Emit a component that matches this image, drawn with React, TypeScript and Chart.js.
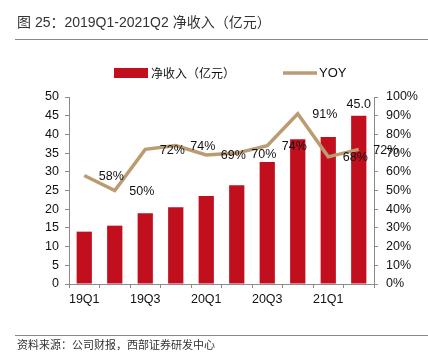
import React, { useEffect, useRef } from "react";
import { Chart, registerables } from "chart.js";

Chart.register(...registerables);

const categories = ["19Q1", "19Q2", "19Q3", "19Q4", "20Q1", "20Q2", "20Q3", "20Q4", "21Q1", "21Q2"];
const netIncome = [14.0, 15.6, 18.9, 20.5, 23.5, 26.4, 32.6, 38.7, 39.3, 45.0];
const yoy = [58, 50, 72, 74, 69, 70, 74, 91, 68, 72];
const leftTicks = [0, 5, 10, 15, 20, 25, 30, 35, 40, 45, 50];
const rightTicks = [0, 10, 20, 30, 40, 50, 60, 70, 80, 90, 100];

const RED = "#C20F1E";
const TAN = "#BB9B72";
const AXIS = "#8a8a8a";
const LATIN = "'Liberation Sans', Arial, sans-serif";
const CJK = "'Noto Sans CJK SC', sans-serif";
const MIXED = "'Liberation Sans', 'Noto Sans CJK SC', sans-serif";

const legendPlugin = {
  id: "customLegend",
  afterDraw(chart: any) {
    const ctx = chart.ctx;
    ctx.save();
    ctx.fillStyle = RED;
    ctx.fillRect(114, 68, 34, 10);
    ctx.fillStyle = "#111";
    ctx.textBaseline = "middle";
    ctx.textAlign = "left";
    ctx.font = `12px ${CJK}`;
    ctx.fillText("净收入（亿元）", 151, 73);
    ctx.strokeStyle = TAN;
    ctx.lineWidth = 3.5;
    ctx.beginPath();
    ctx.moveTo(283, 73);
    ctx.lineTo(317, 73);
    ctx.stroke();
    ctx.font = `13px ${LATIN}`;
    ctx.fillText("YOY", 319, 73.5);
    ctx.restore();
  },
};

const labelPlugin = {
  id: "dataLabels",
  afterDatasetsDraw(chart: any) {
    const ctx = chart.ctx;
    ctx.save();
    ctx.fillStyle = "#111";
    ctx.font = `12.5px ${LATIN}`;
    const lineMeta = chart.getDatasetMeta(1);
    lineMeta.data.forEach((pt: any, i: number) => {
      ctx.textAlign = "center";
      ctx.textBaseline = "middle";
      ctx.fillText(yoy[i] + "%", pt.x + 27, pt.y + 1);
    });
    const barMeta = chart.getDatasetMeta(0);
    const last = barMeta.data[barMeta.data.length - 1];
    ctx.textAlign = "center";
    ctx.textBaseline = "bottom";
    ctx.fillText(netIncome[netIncome.length - 1].toFixed(1), last.x, last.y - 5);
    ctx.restore();
  },
};

export default function App() {
  const ref = useRef<HTMLCanvasElement>(null);
  useEffect(() => {
    if (!ref.current) return;
    const chart = new Chart(ref.current, {
      type: "bar",
      data: {
        labels: categories,
        datasets: [
          {
            type: "bar",
            label: "净收入（亿元）",
            data: netIncome,
            backgroundColor: RED,
            barPercentage: 0.5,
            categoryPercentage: 1,
            yAxisID: "y",
            order: 2,
          },
          {
            type: "line",
            label: "YOY",
            data: yoy,
            borderColor: TAN,
            borderWidth: 3.5,
            pointRadius: 0,
            tension: 0,
            fill: false,
            yAxisID: "y1",
            order: 1,
          } as any,
        ],
      },
      options: {
        responsive: false,
        animation: false,
        devicePixelRatio: 1,
        layout: { padding: { top: 97, bottom: 0, left: 0, right: 0 } },
        plugins: { legend: { display: false }, tooltip: { enabled: false }, title: { display: false } },
        scales: {
          x: {
            offset: true,
            grid: { offset: true, drawOnChartArea: false, drawTicks: true, tickLength: 4, color: AXIS },
            border: { color: AXIS, width: 1 },
            ticks: {
              autoSkip: false,
              maxRotation: 0,
              padding: 4,
              color: "#111",
              font: { size: 12.5, family: LATIN },
              callback: (_v: any, i: number) => (i % 2 === 0 ? categories[i] : ""),
            },
            afterFit: (s: any) => {
              s.height = 74;
            },
          },
          y: {
            position: "left",
            min: leftTicks[0],
            max: leftTicks[leftTicks.length - 1],
            afterBuildTicks: (s: any) => {
              s.ticks = leftTicks.map((v) => ({ value: v }));
            },
            grid: { drawOnChartArea: false, drawTicks: true, tickLength: 4, color: AXIS },
            border: { color: AXIS, width: 1 },
            ticks: { padding: 6, color: "#111", font: { size: 12.5, family: LATIN } },
            afterFit: (s: any) => {
              s.width = 69;
            },
          },
          y1: {
            position: "right",
            min: rightTicks[0],
            max: rightTicks[rightTicks.length - 1],
            afterBuildTicks: (s: any) => {
              s.ticks = rightTicks.map((v) => ({ value: v }));
            },
            grid: { drawOnChartArea: false, drawTicks: true, tickLength: 4, color: AXIS },
            border: { color: AXIS, width: 1 },
            ticks: {
              padding: 8,
              color: "#111",
              font: { size: 12.5, family: LATIN },
              callback: (v: any) => v + "%",
            },
            afterFit: (s: any) => {
              s.width = 54;
            },
          },
        },
      },
      plugins: [legendPlugin, labelPlugin],
    });
    return () => chart.destroy();
  }, []);

  return (
    <div style={{ position: "absolute", left: 0, top: 0, width: 428, height: 358, background: "#fff", overflow: "hidden" }}>
      <canvas ref={ref} width={428} height={358} style={{ position: "absolute", left: 0, top: 0, width: 428, height: 358 }} />
      <div
        style={{
          position: "absolute",
          left: 17,
          top: 13,
          fontFamily: MIXED,
          fontSize: 14,
          lineHeight: "18px",
          color: "#333",
          whiteSpace: "nowrap",
        }}
      >
        图 25：2019Q1-2021Q2 净收入（亿元）
      </div>
      <div style={{ position: "absolute", left: 15, top: 39, width: 413, height: 0, borderTop: "1.5px solid #8a8a8a" }} />
      <div style={{ position: "absolute", left: 15, top: 335, width: 413, height: 0, borderTop: "1.5px solid #8a8a8a" }} />
      <div
        style={{
          position: "absolute",
          left: 17,
          top: 336,
          fontFamily: CJK,
          fontSize: 11,
          lineHeight: "16px",
          color: "#333",
          whiteSpace: "nowrap",
        }}
      >
        资料来源：公司财报，西部证券研发中心
      </div>
    </div>
  );
}
